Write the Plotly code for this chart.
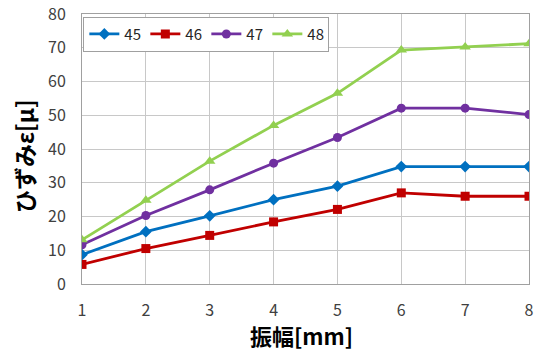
import plotly.graph_objects as go

x = [1, 2, 3, 4, 5, 6, 7, 8]
s45 = [8.7, 15.5, 20.2, 25.0, 29.0, 34.8, 34.8, 34.8]
s46 = [5.8, 10.5, 14.4, 18.4, 22.1, 27.0, 26.0, 26.0]
s47 = [11.6, 20.3, 27.9, 35.8, 43.4, 52.1, 52.1, 50.2]
s48 = [13.1, 24.8, 36.4, 47.0, 56.5, 69.3, 70.2, 71.2]
names = ["45", "46", "47", "48"]
colors = ["#0070C0", "#C00000", "#7030A0", "#92D050"]
symbols = ["diamond", "square", "circle", "triangle-up"]
sizes = [9, 9, 9, 10]
x_title = "振幅[mm]"
y_title = "ひずみε[μ]"

fig = go.Figure()
for name, ys, c, sym, sz in zip(names, [s45, s46, s47, s48], colors, symbols, sizes):
    fig.add_trace(go.Scatter(x=x, y=ys, name=name, mode="lines+markers",
                             line=dict(color=c, width=2.8),
                             marker=dict(symbol=sym, size=sz, color=c)))

font = "Noto Sans CJK JP"
fig.update_layout(
    width=534, height=351,
    margin=dict(l=82, r=5, t=14, b=67),
    paper_bgcolor="white", plot_bgcolor="white",
    font=dict(family=font, size=16, color="#404040"),
    showlegend=True,
    legend=dict(orientation="h", x=0.003, y=0.99, xanchor="left", yanchor="top",
                bgcolor="white", bordercolor="#A0A0A0", borderwidth=1,
                font=dict(size=15, color="#262626"),
                itemwidth=30, entrywidth=16, entrywidthmode="pixels", tracegroupgap=0),
    xaxis=dict(range=[1, 8], tickvals=x, showgrid=True, gridcolor="#C8C8C8",
               showline=True, linecolor="#A0A0A0", mirror=True, zeroline=False,
               ticks="", ticklabelstandoff=12, automargin=False),
    yaxis=dict(range=[0, 80], dtick=10, showgrid=True, gridcolor="#C8C8C8",
               showline=True, linecolor="#A0A0A0", mirror=True, zeroline=False,
               ticks="", ticklabelstandoff=12, automargin=False),
    annotations=[
        dict(text="<b>" + x_title + "</b>", xref="paper", yref="paper", x=0.49, y=0,
             xanchor="center", yanchor="middle", yshift=-51, showarrow=False,
             font=dict(size=22, color="#000000", family=font)),
        dict(text="<b>" + y_title + "</b>", xref="paper", yref="paper", x=0, y=0.474,
             xanchor="center", yanchor="middle", xshift=-58, textangle=-90, showarrow=False,
             font=dict(size=23, color="#000000", family=font)),
    ],
)
fig.write_html("out.html", config={"displayModeBar": False},
               post_script="document.body.style.margin='0';")
